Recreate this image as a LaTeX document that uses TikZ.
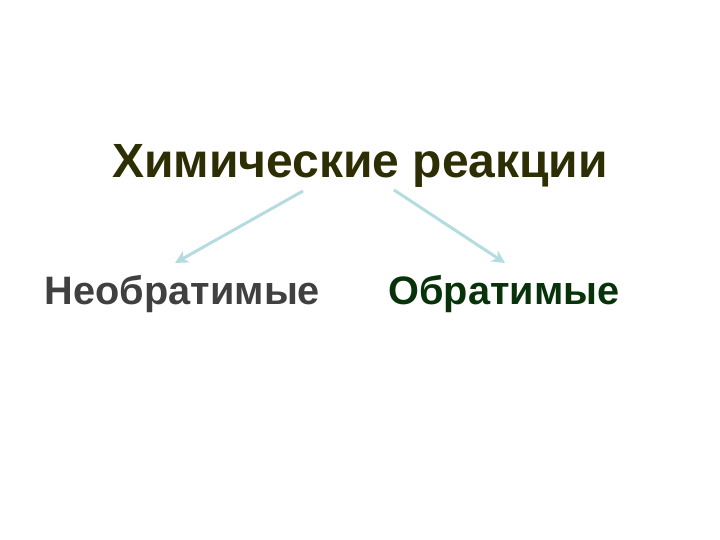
\documentclass[tikz,border=0pt]{standalone}
\usepackage{fontspec}
\setmainfont{Liberation Sans}
\usetikzlibrary{arrows.meta}
\definecolor{titlecol}{HTML}{2E2E05}
\definecolor{graycol}{HTML}{404040}
\definecolor{greencol}{HTML}{08330A}
\definecolor{arrowcol}{HTML}{B4DCE0}
\tikzset{
  lbl/.style={anchor=base, inner sep=0pt, font=\bfseries\fontsize{39.7}{42}\selectfont},
  conn/.style={draw=arrowcol, line width=3pt, -{Stealth[length=13pt,width=13pt,inset=4pt]}}
}
\begin{document}
\begin{tikzpicture}[x=1pt,y=1pt]
\useasboundingbox (0,0) rectangle (720,540);
\node[anchor=base, inner sep=0pt, text=titlecol, font=\bfseries\fontsize{48}{52}\selectfont] (title) at (360,362) {Химические реакции};
\node[lbl, text=graycol] (irr) at (182.5,235) {Необратимые};
\node[lbl, text=greencol] (rev) at (504,235) {Обратимые};
\coordinate (s1) at (303,349);
\coordinate (e1) at (175,277);
\coordinate (s2) at (394,350);
\coordinate (e2) at (505,277);
\draw[conn] (s1) -- (e1);
\draw[conn] (s2) -- (e2);
\end{tikzpicture}
\end{document}
